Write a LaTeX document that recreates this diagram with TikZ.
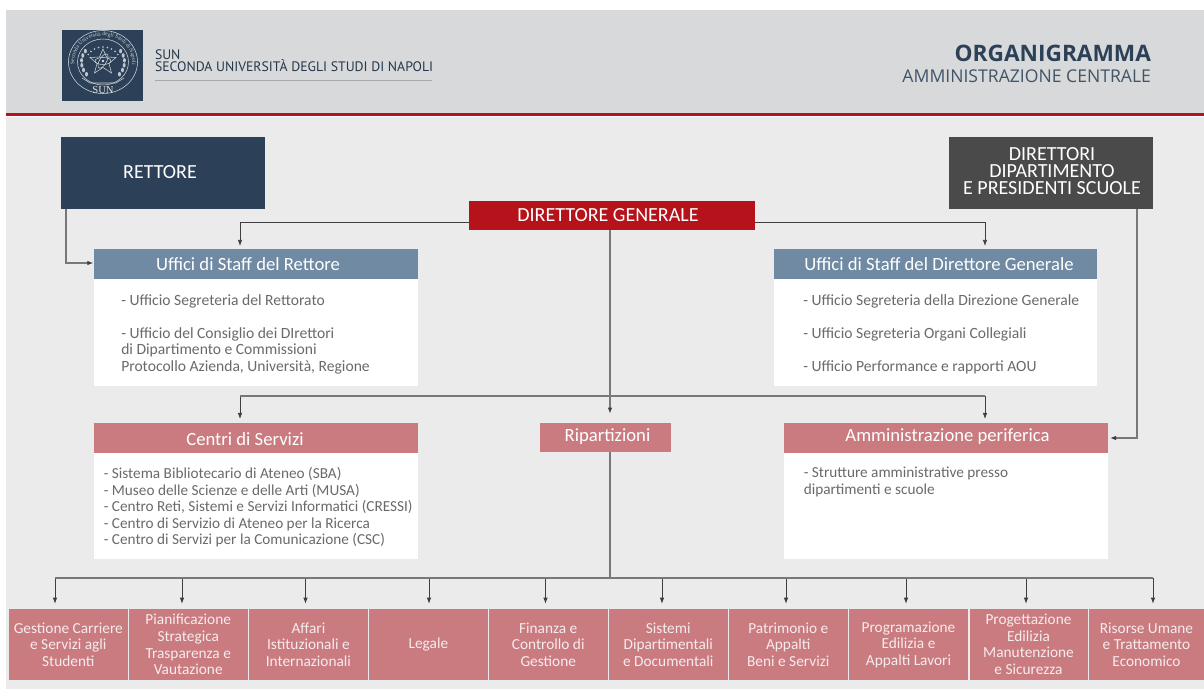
\documentclass[tikz,border=0pt]{standalone}
\usepackage{fontspec}
\setmainfont{Carlito}
\newfontfamily\headfont{Open Sans}
\newfontfamily\dinfont{PT Sans}
\newfontfamily\logofont{Liberation Serif}
\usetikzlibrary{arrows.meta,decorations.text}
\definecolor{headbg}{HTML}{D8D9DA}
\definecolor{bodybg}{HTML}{EBEBEB}
\definecolor{redbar}{HTML}{B5121B}
\definecolor{navy}{HTML}{2C4157}
\definecolor{darkgr}{HTML}{4A4A4A}
\definecolor{steel}{HTML}{6F8AA2}
\definecolor{rose}{HTML}{C97B80}
\definecolor{bodytxt}{HTML}{6A6A6A}
\definecolor{wire}{HTML}{3F3F3F}
\definecolor{trunk}{HTML}{787878}
\definecolor{softwhite}{HTML}{F6ECEC}
\newcommand{\pxbox}[7]{\node[#6,minimum width={(#4-#2)*0.75pt},minimum height={(#5-#3)*0.75pt}] (#1) at ({(#2+#4)/2},{(#3+#5)/2}) {#7};}
\tikzset{
  x=0.75pt,y=-0.75pt,
  plain/.style={inner sep=0pt,outer sep=0pt,draw=none,align=center},
  rettbox/.style={plain,fill=navy},
  dirbox/.style={plain,fill=darkgr},
  genbox/.style={plain,fill=redbar},
  staffbox/.style={plain,fill=steel},
  servbox/.style={plain,fill=rose},
  whitebox/.style={plain,fill=white},
  cell/.style={plain,fill=rose,text=softwhite,font=\fontsize{11.5}{12.4}\selectfont},
  headtext/.style={text=white,font=\fontsize{14}{15}\selectfont,inner sep=0pt},
  capstext/.style={text=white,font=\fontsize{15}{13}\selectfont,inner sep=0pt},
  listtext/.style={text=bodytxt,font=\fontsize{11.7}{12.45}\selectfont,align=left,anchor=north west,inner sep=0pt},
  wirea/.style={draw=wire,line width=0.6pt,-{Latex[length=4.5pt,width=3.4pt,color=wire]}},
  wireg/.style={draw=trunk,line width=0.8pt,-{Latex[length=4.5pt,width=3.4pt,color=wire]}},
  wireb/.style={draw=trunk,line width=1.05pt},
}
\begin{document}
\begin{tikzpicture}
\useasboundingbox (0,0) rectangle (1204,691);
\fill[white] (0,0) rectangle (1204,691);
\fill[bodybg] (6,117) rectangle (1204,689);
\fill[headbg] (6,10) rectangle (1204,114);
\fill[redbar] (6,113.5) rectangle (1204,116.5);
% logo
\fill[navy] (62,30) rectangle (143,101);
\begin{scope}[draw=white!78!navy,line width=0.4pt]
\draw (103,62) ellipse [x radius=34.5,y radius=31.5];
\draw (103,62) ellipse [x radius=25.5,y radius=23];
\foreach \a in {30,45,...,150}{
  \fill[white!72!navy] ({103+17*cos(\a)},{62-15*sin(\a)}) circle (0.9);
}
\foreach \a in {-35,-20,...,40}{
  \fill[white!70!navy] ({103+21.5*cos(\a)},{62+19*sin(\a)}) ellipse [x radius=1.5,y radius=2.3];
  \fill[white!70!navy] ({103-21.5*cos(\a)},{62+19*sin(\a)}) ellipse [x radius=1.5,y radius=2.3];
}
\draw (103,49) -- (106.5,57) -- (116,57.5) -- (109,63.5) -- (111.5,73) -- (103,67.5) -- (94.5,73) -- (97,63.5) -- (90,57.5) -- (99.5,57) -- cycle;
\draw (103,61) ellipse [x radius=8,y radius=3.5];
\draw[rotate around={60:(103,61)}] (103,61) ellipse [x radius=8,y radius=3.5];
\fill[white!85!navy] (103,61) circle (1.3);
\draw (82,78) -- (90,83) -- (116,83) -- (124,78);
\end{scope}
\path[postaction={decorate,decoration={text along path,text align=center,
  text={|\logofont\fontsize{4.2}{5}\selectfont\color{white!75!navy}|Seconda Università degli Studi di Napoli}}}]
  (75.5,70) arc[start angle=163,end angle=377,x radius=29,y radius=26.5];
\node[plain,text=white!85!navy,font=\logofont\fontsize{8}{8}\selectfont] (sunlogo) at (103,90) {SUN};
% header text
\node[plain,anchor=base west,text=navy!85!black,font=\dinfont\fontsize{10.3}{12}\selectfont] (sun) at (155,60) {SUN};
\node[plain,anchor=base west,text=navy!85!black,font=\dinfont\fontsize{10.3}{12}\selectfont] (seconda) at (155,72) {SECONDA UNIVERSITÀ DEGLI STUDI DI NAPOLI};
\draw[black!22!headbg,line width=0.5pt] (155,80) -- (432,80);
\node[plain,anchor=base east,text=navy,font=\headfont\bfseries\fontsize{17}{19}\selectfont] (org) at (1151,61.5) {ORGANIGRAMMA};
\node[plain,anchor=base east,text=navy!90!white,font=\headfont\fontsize{13.2}{15}\selectfont] (amm) at (1151,83) {AMMINISTRAZIONE CENTRALE};
% top row
\pxbox{rett}{61}{137}{265}{209}{rettbox}{}
\node[capstext] (retttxt) at (160,172.5) {RETTORE};
\pxbox{dir}{949}{137}{1153}{209}{dirbox}{}
\node[capstext,align=center] (dirtxt) at (1052,171) {DIRETTORI\\DIPARTIMENTO\\E PRESIDENTI SCUOLE};
\pxbox{dg}{469}{201}{755}{230}{genbox}{}
\node[capstext] (dgtxt) at (608,215) {DIRETTORE GENERALE};
% staff blocks
\pxbox{ur}{94}{249}{418}{279}{staffbox}{}
\node[headtext] (urtxt) at (248,264) {Uffici di Staff del Rettore};
\pxbox{urw}{94}{279}{418}{386}{whitebox}{}
\node[listtext] (urlist) at (121,294) {- Ufficio Segreteria del Rettorato\\[16.6*0.75pt]- Ufficio del Consiglio dei DIrettori\\di Dipartimento e Commissioni\\Protocollo Azienda, Università, Regione};
\pxbox{ud}{774}{249}{1097}{279}{staffbox}{}
\node[headtext] (udtxt) at (939,264) {Uffici di Staff del Direttore Generale};
\pxbox{udw}{774}{279}{1097}{386}{whitebox}{}
\node[listtext] (udlist) at (803,294) {- Ufficio Segreteria della Direzione Generale\\[16.6*0.75pt]- Ufficio Segreteria Organi Collegiali\\[16.6*0.75pt]- Ufficio Performance e rapporti AOU};
% service blocks
\pxbox{cs}{94}{423}{418}{453}{servbox}{}
\node[headtext] (cstxt) at (245,439) {Centri di Servizi};
\pxbox{csw}{94}{453}{418}{559}{whitebox}{}
\node[listtext,font=\fontsize{11.45}{12.45}\selectfont] (cslist) at (103.5,467) {- Sistema Bibliotecario di Ateneo (SBA)\\- Museo delle Scienze e delle Arti (MUSA)\\- Centro Reti, Sistemi e Servizi Informatici (CRESSI)\\- Centro di Servizio di Ateneo per la Ricerca\\- Centro di Servizi per la Comunicazione (CSC)};
\pxbox{rip}{540}{423}{671}{452}{servbox}{}
\node[headtext] (riptxt) at (607.5,437) {Ripartizioni};
\pxbox{ap}{784}{423}{1108}{453}{servbox}{}
\node[headtext] (aptxt) at (947.5,437) {Amministrazione periferica};
\pxbox{apw}{784}{453}{1108}{559}{whitebox}{}
\node[listtext,font=\fontsize{11.45}{12.45}\selectfont] (aplist) at (803.5,467) {- Strutture amministrative presso\\dipartimenti e scuole};
% bottom row
\pxbox{c1}{9}{609}{127.6}{680}{cell}{Gestione Carriere\\e Servizi agli\\Studenti}
\pxbox{c2}{129}{609}{247.5}{680}{cell}{Pianificazione\\Strategica\\Trasparenza e\\Vautazione}
\pxbox{c3}{249}{609}{367.8}{680}{cell}{Affari\\Istituzionali e\\Internazionali}
\pxbox{c4}{369.2}{609}{487.6}{680}{cell}{Legale}
\pxbox{c5}{489}{609}{607.5}{680}{cell}{Finanza e\\Controllo di\\Gestione}
\pxbox{c6}{609}{609}{727.5}{680}{cell}{Sistemi\\Dipartimentali\\e Documentali}
\pxbox{c7}{729}{609}{847.5}{680}{cell}{Patrimonio e\\Appalti\\Beni e Servizi}
\pxbox{c8}{849}{609}{968}{680}{cell}{Programazione\\Edilizia e\\Appalti Lavori}
\pxbox{c9}{969.5}{609}{1087.5}{680}{cell}{Progettazione\\Edilizia\\Manutenzione\\e Sicurezza}
\pxbox{c10}{1089}{609}{1204}{680}{cell}{Risorse Umane\\e Trattamento\\Economico}
% routing columns and rows
\coordinate (xua) at (240,0);
\coordinate (xub) at (985,0);
\coordinate (xmid) at (610,0);
\coordinate (ytop) at (0,222);
\coordinate (ymid) at (0,396);
\coordinate (ybot) at (0,578);
\coordinate (xrl) at (66,0);
\coordinate (xdr) at (1137,0);
\coordinate (ysr) at (0,263);
\coordinate (yap) at (0,438);
\coordinate (x1) at (55,0);
\coordinate (x2) at (182,0);
\coordinate (x3) at (305.5,0);
\coordinate (x4) at (429,0);
\coordinate (x5) at (545.5,0);
\coordinate (x6) at (662,0);
\coordinate (x7) at (786,0);
\coordinate (x8) at (906,0);
\coordinate (x9) at (1026,0);
\coordinate (x10) at (1153,0);
% connectors
\draw[wirea,shorten >=2.3pt] (dg.west |- ytop) -| (xua |- ur.north);
\draw[wirea,shorten >=2.3pt] (dg.east |- ytop) -| (xub |- ud.north);
\draw[wireg,shorten >=0.5pt] (xrl |- rett.south) |- (ur.west |- ysr);
\draw[wireg,shorten >=1.5pt] (xdr |- dir.south) |- (ap.east |- yap);
\draw[wireg,shorten >=7pt] (xmid |- dg.south) -- (xmid |- rip.north);
\draw[wirea,shorten >=3pt] (xmid |- ymid) -| (xua |- cs.north);
\draw[wirea,shorten >=3pt] (xmid |- ymid) -| (xub |- ap.north);
\draw[wireb] (xua |- ymid) -- (xub |- ymid);
\draw[wireb] (xmid |- rip.south) -- (xmid |- ybot);
\foreach \k in {1,...,10}{
  \draw[wirea,shorten >=4pt] (xmid |- ybot) -| (x\k |- c\k.north);
}
\draw[wireb] (x1 |- ybot) -- (x10 |- ybot);
\end{tikzpicture}
\end{document}
